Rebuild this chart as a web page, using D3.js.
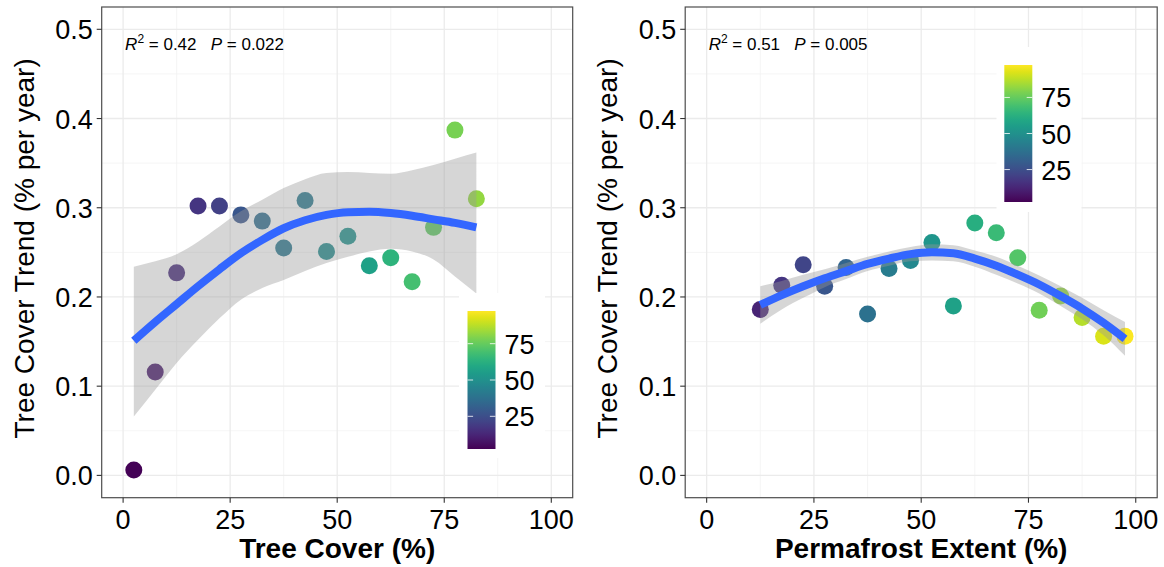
<!DOCTYPE html>
<html>
<meta charset="utf-8">
<head>
    <script src="https://d3js.org/d3.v7.min.js"></script>
    <style>
        body { margin: 0; background: #fff; }
        text { font-family: "Liberation Sans", Arial, sans-serif; }
    </style>
</head>
<body>
    <script>
        var width = 1164,
            height = 567;

        // left panel: tree cover bins
        var treeX = [2.5, 7.5, 12.5, 17.5, 22.5, 27.5, 32.5, 37.5, 42.5, 47.5, 52.5, 57.5, 62.5, 67.5, 72.5, 77.5, 82.5];
        var treeY = [0.006, 0.116, 0.227, 0.302, 0.302, 0.292, 0.285, 0.255, 0.308, 0.251, 0.268, 0.235, 0.244, 0.217, 0.278, 0.387, 0.310];
        var treeColor = [3, 9, 14, 17, 21, 28, 36, 40, 41, 48, 50, 57, 64, 69, 74, 78, 82];
        // smooth fit
        var treeFitX = [2.5, 7.5, 12.5, 17.5, 22.5, 27.5, 32.5, 37.5, 42.5, 47.5, 52.5, 57.5, 62.5, 67.5, 72.5, 77.5, 82.5];
        var treeFit = [0.151, 0.172, 0.192, 0.212, 0.231, 0.249, 0.264, 0.277, 0.286, 0.292, 0.295, 0.2955, 0.294, 0.291, 0.287, 0.283, 0.278];
        var treeFitHi = [0.234, 0.240, 0.248, 0.262, 0.279, 0.296, 0.309, 0.322, 0.332, 0.339, 0.340, 0.339, 0.338, 0.342, 0.348, 0.355, 0.362];
        var treeFitLo = [0.066, 0.096, 0.126, 0.152, 0.176, 0.197, 0.210, 0.219, 0.229, 0.238, 0.245, 0.251, 0.254, 0.251, 0.242, 0.223, 0.204];

        // right panel: permafrost extent bins
        var permX = [12.5, 17.5, 22.5, 27.5, 32.5, 37.5, 42.5, 47.5, 52.5, 57.5, 62.5, 67.5, 72.5, 77.5, 82.5, 87.5, 92.5, 97.5];
        var permY = [0.186, 0.213, 0.236, 0.212, 0.233, 0.181, 0.232, 0.241, 0.261, 0.190, 0.283, 0.272, 0.244, 0.185, 0.201, 0.177, 0.156, 0.156];
        var permColor = [12, 17, 22, 28, 33, 38, 42, 47, 52, 57, 62, 67, 72, 77, 82, 87, 92, 97];
        var permFitX = [12.5, 17.5, 22.5, 27.5, 32.5, 37.5, 42.5, 47.5, 52.5, 57.5, 62.5, 67.5, 72.5, 77.5, 82.5, 87.5, 92.5, 97.5];
        var permFit = [0.191, 0.202, 0.212, 0.221, 0.229, 0.237, 0.243, 0.248, 0.250, 0.249, 0.243, 0.235, 0.225, 0.214, 0.201, 0.187, 0.171, 0.153];
        var permFitHi = [0.212, 0.218, 0.225, 0.231, 0.238, 0.245, 0.251, 0.256, 0.259, 0.258, 0.252, 0.245, 0.235, 0.224, 0.212, 0.199, 0.185, 0.172];
        var permFitLo = [0.170, 0.186, 0.199, 0.211, 0.220, 0.229, 0.235, 0.240, 0.241, 0.240, 0.234, 0.225, 0.215, 0.204, 0.190, 0.175, 0.157, 0.134];

        var xTicks = [0, 25, 50, 75, 100],
            xMinor = [12.5, 37.5, 62.5, 87.5],
            yTicks = [0, 0.1, 0.2, 0.3, 0.4, 0.5],
            yMinor = [0.05, 0.15, 0.25, 0.35, 0.45],
            legendTicks = [25, 50, 75],
            colorDomain = [2.5, 97.5];

        var color = d3.scaleSequential(d3.interpolateViridis).domain(colorDomain);

        var svg = d3.select("body").append("svg")
            .attr("width", width)
            .attr("height", height);

        // shared gradient for colorbars (bottom = low)
        var grad = svg.append("defs").append("linearGradient")
            .attr("id", "viridis")
            .attr("x1", 0).attr("y1", 1).attr("x2", 0).attr("y2", 0);
        d3.range(0, 1.0001, 0.05).forEach(function(t) {
            grad.append("stop")
                .attr("offset", t)
                .attr("stop-color", d3.interpolateViridis(t));
        });

        function panel(o) {
            var x = d3.scaleLinear().domain([-5, 105]).range([o.left, o.right]);
            var y = d3.scaleLinear().domain([-0.025, 0.525]).range([o.bottom, o.top]);
            var g = svg.append("g");

            // grid
            g.selectAll(".xminor").data(xMinor).enter().append("line")
                .attr("x1", d => x(d)).attr("x2", d => x(d))
                .attr("y1", o.top).attr("y2", o.bottom)
                .attr("stroke", "#f2f2f2").attr("stroke-width", 0.8);
            g.selectAll(".yminor").data(yMinor).enter().append("line")
                .attr("y1", d => y(d)).attr("y2", d => y(d))
                .attr("x1", o.left).attr("x2", o.right)
                .attr("stroke", "#f2f2f2").attr("stroke-width", 0.8);
            g.selectAll(".xmajor").data(xTicks).enter().append("line")
                .attr("x1", d => x(d)).attr("x2", d => x(d))
                .attr("y1", o.top).attr("y2", o.bottom)
                .attr("stroke", "#ebebeb").attr("stroke-width", 1.3);
            g.selectAll(".ymajor").data(yTicks).enter().append("line")
                .attr("y1", d => y(d)).attr("y2", d => y(d))
                .attr("x1", o.left).attr("x2", o.right)
                .attr("stroke", "#ebebeb").attr("stroke-width", 1.3);

            // points first, the ribbon washes over them
            g.selectAll("circle").data(o.px).enter().append("circle")
                .attr("cx", d => x(d))
                .attr("cy", (d, i) => y(o.py[i]))
                .attr("r", 8.5)
                .attr("fill", (d, i) => color(o.pc[i]));

            var fit = o.fitX.map((d, i) => ({x: d, y: o.fit[i], lo: o.lo[i], hi: o.hi[i]}));

            g.append("path").datum(fit)
                .attr("d", d3.area().curve(d3.curveMonotoneX)
                    .x(d => x(d.x)).y0(d => y(d.lo)).y1(d => y(d.hi)))
                .attr("fill", "#999999")
                .attr("fill-opacity", 0.4);

            g.append("path").datum(fit)
                .attr("d", d3.line().curve(d3.curveMonotoneX)
                    .x(d => x(d.x)).y(d => y(d.y)))
                .attr("fill", "none")
                .attr("stroke", "#3366ff")
                .attr("stroke-width", 8);

            // border
            g.append("rect")
                .attr("x", o.left).attr("y", o.top)
                .attr("width", o.right - o.left).attr("height", o.bottom - o.top)
                .attr("fill", "none").attr("stroke", "#4d4d4d").attr("stroke-width", 1.2);

            // axes
            g.selectAll(".xt").data(xTicks).enter().append("line")
                .attr("x1", d => x(d)).attr("x2", d => x(d))
                .attr("y1", o.bottom).attr("y2", o.bottom + 5)
                .attr("stroke", "#333").attr("stroke-width", 1.1);
            g.selectAll(".xl").data(xTicks).enter().append("text")
                .attr("x", d => x(d)).attr("y", o.bottom + 31)
                .attr("text-anchor", "middle")
                .attr("font-size", 27)
                .text(d => d);
            g.selectAll(".yt").data(yTicks).enter().append("line")
                .attr("x1", o.left - 5).attr("x2", o.left)
                .attr("y1", d => y(d)).attr("y2", d => y(d))
                .attr("stroke", "#333").attr("stroke-width", 1.1);
            g.selectAll(".yl").data(yTicks).enter().append("text")
                .attr("x", o.left - 9).attr("y", d => y(d) + 10)
                .attr("text-anchor", "end")
                .attr("font-size", 27)
                .text(d => d3.format(".1f")(d));

            g.append("text")
                .attr("x", (o.left + o.right) / 2 + o.titleShift).attr("y", 558)
                .attr("text-anchor", "middle")
                .attr("font-size", 28)
                .attr("font-weight", "bold")
                .text(o.xTitle);
            g.append("text")
                .attr("transform", "translate(" + (o.left - 68) + "," + ((o.top + o.bottom) / 2 - 4) + ") rotate(-90)")
                .attr("text-anchor", "middle")
                .attr("font-size", 28)
                .text("Tree Cover Trend (% per year)");

            // stats label
            var t = g.append("text")
                .attr("x", x(0) + 2).attr("y", 50)
                .attr("font-size", 17)
                .style("white-space", "pre");
            t.append("tspan").attr("font-style", "italic").text("R");
            t.append("tspan").attr("font-size", 12).attr("dy", -7).text("2");
            t.append("tspan").attr("dy", 7).text(" = " + o.r2 + "   ");
            t.append("tspan").attr("font-style", "italic").text("P");
            t.append("tspan").text(" = " + o.p);

            // colorbar legend
            var L = o.legend;
            g.append("rect")
                .attr("x", L.boxX).attr("y", L.boxY)
                .attr("width", L.boxW).attr("height", L.boxH)
                .attr("fill", "#fff");
            var ly = d3.scaleLinear().domain(colorDomain).range([L.barY + L.barH, L.barY]);
            g.append("rect")
                .attr("x", L.barX).attr("y", L.barY)
                .attr("width", 28).attr("height", L.barH)
                .attr("fill", "url(#viridis)");
            g.selectAll(".lt1").data(legendTicks).enter().append("line")
                .attr("x1", L.barX).attr("x2", L.barX + 5.6)
                .attr("y1", d => ly(d)).attr("y2", d => ly(d))
                .attr("stroke", "#fff").attr("stroke-width", 1).attr("stroke-opacity", 0.8);
            g.selectAll(".lt2").data(legendTicks).enter().append("line")
                .attr("x1", L.barX + 28 - 5.6).attr("x2", L.barX + 28)
                .attr("y1", d => ly(d)).attr("y2", d => ly(d))
                .attr("stroke", "#fff").attr("stroke-width", 1).attr("stroke-opacity", 0.8);
            g.selectAll(".ll").data(legendTicks).enter().append("text")
                .attr("x", L.barX + 37).attr("y", d => ly(d) + 10)
                .attr("font-size", 27)
                .text(d => d);
        }

        panel({
            left: 101.7, right: 572.7, top: 7, bottom: 497.7,
            px: treeX, py: treeY, pc: treeColor,
            fitX: treeFitX, fit: treeFit, lo: treeFitLo, hi: treeFitHi,
            xTitle: "Tree Cover (%)", titleShift: 0,
            r2: "0.42", p: "0.022",
            legend: {boxX: 459, boxY: 293, boxW: 86, boxH: 165, barX: 467.5, barY: 311, barH: 138}
        });

        panel({
            left: 685.2, right: 1157.2, top: 7, bottom: 497.7,
            px: permX, py: permY, pc: permColor,
            fitX: permFitX, fit: permFit, lo: permFitLo, hi: permFitHi,
            xTitle: "Permafrost Extent (%)", titleShift: 0,
            r2: "0.51", p: "0.005",
            legend: {boxX: 996.5, boxY: 47, boxW: 85, boxH: 165, barX: 1004.3, barY: 65, barH: 137}
        });
    </script>
</body>
</html>
